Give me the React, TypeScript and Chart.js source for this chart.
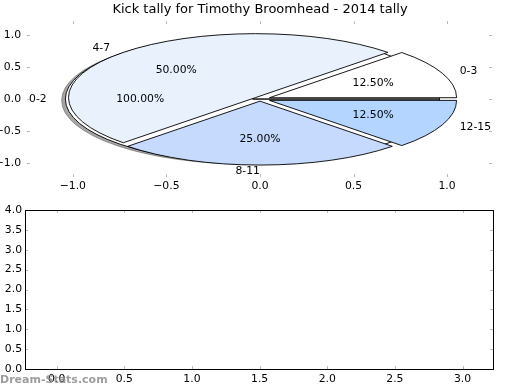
import React, { useEffect, useRef } from "react";
import { Chart, registerables } from "chart.js";
Chart.register(...registerables);

const TITLE = "Kick tally for Timothy Broomhead - 2014 tally";
const WATERMARK = "Dream-Stats.com";

// first pie (drawn underneath, with shadow)
const outerLabels = ["0-2"];
const outerValues = [8];
const outerColors = ["#ffffff"];
const outerExplode = [0.04];

// second pie (drawn on top)
const innerLabels = ["0-3", "4-7", "8-11", "12-15"];
const innerValues = [1, 4, 2, 1];
const innerColors = ["#ffffff", "#e9f1fd", "#c6dafd", "#b3d5ff"];
const innerExplode = [0.055, 0.033, 0.033, 0.055];

const topXTicks = [-1, -0.5, 0, 0.5, 1];
const topYTicks = [-1, -0.5, 0, 0.5, 1];
const bottomXTicks = [0, 0.5, 1, 1.5, 2, 2.5, 3];
const bottomYTicks = [0, 0.5, 1, 1.5, 2, 2.5, 3, 3.5, 4];

const FONT = "DejaVu Sans";
const SMALL = 10.8;

const fmt = (v: number) => v.toFixed(1).replace("-", "\u2212");

function drawPie(
  chart: any,
  labels: string[],
  values: number[],
  colors: string[],
  explode: number[],
  shadow: boolean,
  texts: any[]
) {
  const ctx = chart.ctx;
  const xs = chart.scales.x;
  const ys = chart.scales.y;
  const px = (v: number) => xs.getPixelForValue(v);
  const py = (v: number) => ys.getPixelForValue(v);
  const rx = px(1) - px(0);
  const ry = py(0) - py(1);
  const total = values.reduce((a, b) => a + b, 0);
  let t1 = 0;
  values.forEach((val, i) => {
    const t2 = t1 + (2 * Math.PI * val) / total;
    const mid = (t1 + t2) / 2;
    const ox = explode[i] * Math.cos(mid);
    const oy = explode[i] * Math.sin(mid);
    const path = (dx: number, dy: number) => {
      const cx = px(ox + dx);
      const cy = py(oy + dy);
      ctx.beginPath();
      ctx.moveTo(cx, cy);
      ctx.lineTo(cx + rx * Math.cos(t1), cy - ry * Math.sin(t1));
      ctx.ellipse(cx, cy, rx, ry, 0, -t1, -t2, true);
      ctx.closePath();
    };
    if (shadow) {
      path(-0.02, -0.02);
      ctx.fillStyle = "rgba(77,77,77,0.5)";
      ctx.fill();
      ctx.strokeStyle = "rgba(77,77,77,0.5)";
      ctx.lineWidth = 1;
      ctx.stroke();
    }
    path(0, 0);
    ctx.fillStyle = colors[i];
    ctx.fill();
    ctx.strokeStyle = "#000";
    ctx.lineWidth = 0.9;
    ctx.stroke();
    const lx = ox + 1.1 * Math.cos(mid);
    const ly = oy + 1.1 * Math.sin(mid);
    texts.push({ text: labels[i], x: px(lx), y: py(ly), align: lx > 0 ? "left" : "right" });
    const tx = ox + 0.6 * Math.cos(mid);
    const ty = oy + 0.6 * Math.sin(mid);
    texts.push({ text: ((100 * val) / total).toFixed(2) + "%", x: px(tx), y: py(ty), align: "center" });
    t1 = t2;
  });
}

const piePlugin = {
  id: "piePlugin",
  afterDatasetsDraw(chart: any) {
    const ctx = chart.ctx;
    ctx.save();
    const texts: any[] = [];
    drawPie(chart, outerLabels, outerValues, outerColors, outerExplode, true, texts);
    drawPie(chart, innerLabels, innerValues, innerColors, innerExplode, false, texts);
    ctx.fillStyle = "#000";
    ctx.font = `${SMALL}px "${FONT}"`;
    ctx.textBaseline = "middle";
    texts.forEach((t) => {
      ctx.textAlign = t.align;
      ctx.fillText(t.text, t.x, t.y);
    });
    ctx.restore();
  },
};

const makeTickPlugin = (frame: boolean, watermark: boolean) => ({
  id: "innerTicks",
  afterDraw(chart: any) {
    const ctx = chart.ctx;
    const a = chart.chartArea;
    const xs = chart.scales.x;
    const ys = chart.scales.y;
    ctx.save();
    ctx.strokeStyle = "#b8b8b8";
    ctx.lineWidth = 1;
    const L = 3;
    xs.ticks.forEach((t: any) => {
      const x = Math.round(xs.getPixelForValue(t.value)) + 0.5;
      ctx.beginPath();
      ctx.moveTo(x, a.top);
      ctx.lineTo(x, a.top + L);
      ctx.moveTo(x, a.bottom);
      ctx.lineTo(x, a.bottom - L);
      ctx.stroke();
    });
    ys.ticks.forEach((t: any) => {
      const y = Math.round(ys.getPixelForValue(t.value)) + 0.5;
      ctx.beginPath();
      ctx.moveTo(a.left, y);
      ctx.lineTo(a.left + L, y);
      ctx.moveTo(a.right, y);
      ctx.lineTo(a.right - L, y);
      ctx.stroke();
    });
    if (frame) {
      ctx.strokeStyle = "#000";
      ctx.strokeRect(Math.round(a.left) + 0.5, Math.round(a.top) + 0.5, Math.round(a.right - a.left), Math.round(a.bottom - a.top));
    }
    if (watermark) {
      ctx.font = `bold 11px "${FONT}"`;
      ctx.fillStyle = "rgba(140,140,140,0.85)";
      ctx.textAlign = "left";
      ctx.textBaseline = "middle";
      ctx.fillText(WATERMARK, 0, chart.height - 10);
    }
    ctx.restore();
  },
});

function axis(min: number, max: number, ticks: number[], size: number, isY: boolean, pad: number) {
  return {
    type: "linear",
    min,
    max,
    grid: { display: false, drawTicks: false },
    border: { display: false },
    afterBuildTicks: (scale: any) => {
      scale.ticks = ticks.map((v) => ({ value: v }));
    },
    afterFit: (scale: any) => {
      if (isY) scale.width = size;
      else scale.height = size;
    },
    ticks: {
      color: "#000",
      font: { family: FONT, size: SMALL },
      padding: pad,
      maxRotation: 0,
      autoSkip: false,
      callback: (v: any) => fmt(Number(v)),
    },
  };
}

// invisible right-hand spacer axis so the title stays centred on the canvas
const spacer = (w: number) => ({
  type: "linear",
  position: "right",
  display: true,
  grid: { display: false, drawTicks: false },
  border: { display: false },
  ticks: { display: false },
  afterFit: (scale: any) => {
    scale.width = w;
  },
});

export default function App() {
  const topRef = useRef<HTMLCanvasElement>(null);
  const botRef = useRef<HTMLCanvasElement>(null);

  useEffect(() => {
    const top = new Chart(topRef.current as HTMLCanvasElement, {
      type: "scatter",
      data: { datasets: [{ data: [] }] },
      options: {
        responsive: false,
        animation: false,
        layout: { padding: 0 },
        plugins: {
          legend: { display: false },
          tooltip: { enabled: false },
          title: {
            display: true,
            text: TITLE,
            color: "#000",
            font: { family: FONT, size: 13, weight: "normal" },
            padding: { top: 2, bottom: 3.5 },
          },
        },
        scales: {
          x: axis(-1.245, 1.24, topXTicks, 18, false, 3),
          y: axis(-1.22, 1.22, topYTicks, 27, true, 6),
          yRight: spacer(28),
        },
      } as any,
      plugins: [piePlugin, makeTickPlugin(false, false)],
    });
    const bot = new Chart(botRef.current as HTMLCanvasElement, {
      type: "scatter",
      data: { datasets: [{ data: [] }] },
      options: {
        responsive: false,
        animation: false,
        layout: { padding: { left: 0, right: 0, top: 15, bottom: 0 } },
        plugins: { legend: { display: false }, tooltip: { enabled: false } },
        scales: {
          x: axis(-0.234, 3.225, bottomXTicks, 21, false, 4),
          y: axis(0, 4, bottomYTicks, 25, true, 3),
          yRight: spacer(27),
        },
      } as any,
      plugins: [makeTickPlugin(true, true)],
    });
    return () => {
      top.destroy();
      bot.destroy();
    };
  }, []);

  return (
    <div style={{ position: "fixed", left: 0, top: 0, width: 520, height: 390, background: "#fff", overflow: "hidden" }}>
      <canvas ref={topRef} width={520} height={195} style={{ position: "absolute", left: 0, top: 0, width: 520, height: 195 }} />
      <canvas ref={botRef} width={520} height={195} style={{ position: "absolute", left: 0, top: 195, width: 520, height: 195 }} />
    </div>
  );
}
